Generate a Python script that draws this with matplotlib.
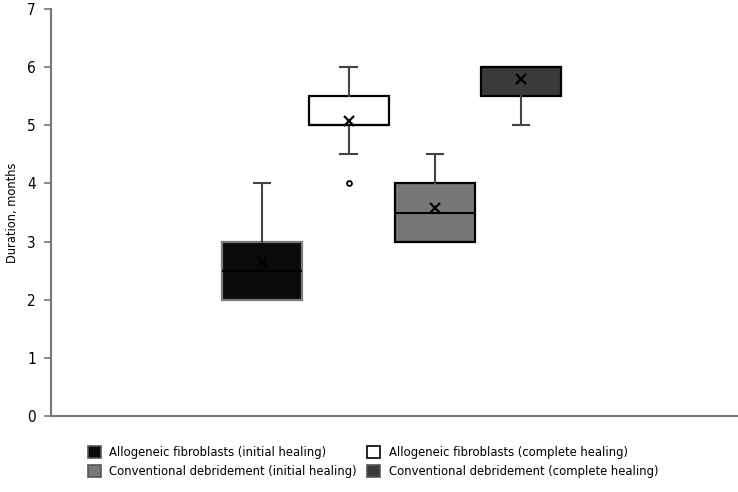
import matplotlib.pyplot as plt
from matplotlib import font_manager
from matplotlib.patches import Patch

# look for a narrow sans face, the chart uses one
narrow = None
for f in font_manager.fontManager.ttflist:
    n = f.fname.lower()
    if ('narrow' in n or 'condensed' in n) and 'bold' not in n and 'oblique' not in n \
            and 'italic' not in n and 'mono' not in n and 'serif' not in n:
        narrow = f
        break

if narrow is not None:
    font_manager.fontManager.addfont(narrow.fname)
    plt.rcParams['font.family'] = [narrow.name, 'DejaVu Sans']
    plt.rcParams['font.stretch'] = narrow.stretch
    fs = 9.3
else:
    plt.rcParams['font.family'] = ['Liberation Sans', 'DejaVu Sans']
    fs = 8.2

# box plot values
labels = ['Allogeneic fibroblasts (initial healing)',
          'Allogeneic fibroblasts (complete healing)',
          'Conventional debridement (initial healing)',
          'Conventional debridement (complete healing)']
q1 = [2.0, 5.0, 3.0, 5.5]
med = [2.5, 5.0, 3.5, 6.0]
q3 = [3.0, 5.5, 4.0, 6.0]
whislo = [2.0, 4.5, 3.0, 5.0]
whishi = [4.0, 6.0, 4.5, 6.0]
means = [2.65, 5.07, 3.57, 5.8]
fliers = [[], [4.0], [], []]

face = ['#0a0a0a', '#ffffff', '#777777', '#3a3a3a']
edge = ['#7a7a7a', '#000000', '#000000', '#000000']
pos = [0.3076, 0.434, 0.56, 0.685]

fig = plt.figure(figsize=(7.38, 4.92), dpi=100)
ax = fig.add_axes([51 / 738, 76 / 492, 686 / 738, 407 / 492])

for i in range(4):
    s = dict(q1=q1[i], med=med[i], q3=q3[i], whislo=whislo[i],
             whishi=whishi[i], mean=means[i], fliers=fliers[i])
    bp = ax.bxp([s], positions=[pos[i]], widths=0.116, patch_artist=True,
                showmeans=True, manage_ticks=False,
                boxprops=dict(facecolor=face[i], edgecolor=edge[i], linewidth=1.6),
                medianprops=dict(color='black', linewidth=1.5),
                whiskerprops=dict(color='#444444', linewidth=1.5),
                capprops=dict(color='#444444', linewidth=1.5),
                capwidths=0.024,
                meanprops=dict(marker='x', markeredgecolor='black', markersize=7,
                               markeredgewidth=1.6),
                flierprops=dict(marker='o', markersize=3.5, markerfacecolor='white',
                                markeredgecolor='black', markeredgewidth=1.3))
    # no cap when the whisker has no length (Excel draws none)
    if whislo[i] == q1[i]:
        bp['caps'][0].set_visible(False)
    if whishi[i] == q3[i]:
        bp['caps'][1].set_visible(False)

ax.set_xlim(0, 1)
ax.set_ylim(0, 7)
ax.set_yticks(range(0, 8))
ax.set_xticks([])
ax.set_ylabel('Duration, months', fontsize=9.2, labelpad=6)
ax.tick_params(axis='y', labelsize=11, length=5, width=1.2, color='#777777', pad=6)
for side in ['top', 'right']:
    ax.spines[side].set_visible(False)
for side in ['left', 'bottom']:
    ax.spines[side].set_color('#777777')
    ax.spines[side].set_linewidth(1.5)

order = [0, 2, 1, 3]
handles = [Patch(facecolor=face[i], edgecolor='#555555' if i != 1 else 'black',
                 linewidth=1.2, label=labels[i]) for i in order]
fig.legend(handles=handles, ncol=2, loc='upper left',
           bbox_to_anchor=(88 / 738, 1 - 446 / 492), frameon=False,
           fontsize=fs, handlelength=1.0, handleheight=1.0,
           handletextpad=0.65, columnspacing=0.8, labelspacing=0.45,
           borderaxespad=0, borderpad=0)

fig.savefig('out.png', dpi=100)
